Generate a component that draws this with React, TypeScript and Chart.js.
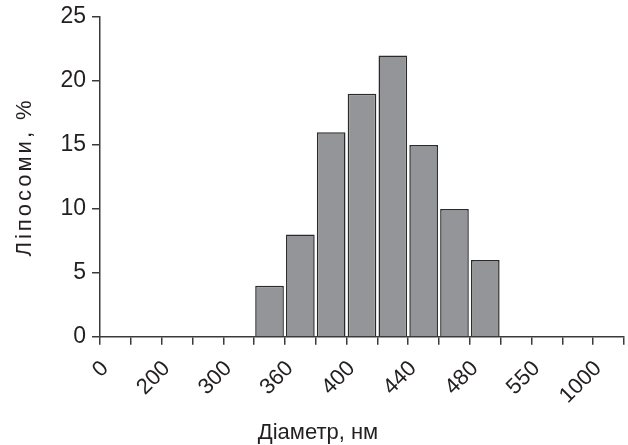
import { useEffect, useRef } from "react";
import { Chart, registerables } from "chart.js";

Chart.register(...registerables);

// Tick labels sit on every second bin boundary of the diameter axis
const tickLabels = ["0", "200", "300", "360", "400", "440", "480", "550", "1000"];
// Share of liposomes (%) in each of the 17 bins along the x axis
const binValues = [0, 0, 0, 0, 0, 4, 8, 16, 19, 22, 15, 10, 6, 0, 0, 0, 0];
const yMax = 25;
const yStep = 5;
const xTitle = "Діаметр, нм";
const yTitle = "Ліпосоми, %";

export default function App() {
  const ref = useRef<HTMLCanvasElement>(null);

  useEffect(() => {
    const ink = "#231f20";
    const axisColor = "#3a3a3a";
    const family = "Arial, 'Liberation Sans', Helvetica, sans-serif";
    const chart = new Chart(ref.current!, {
      type: "bar",
      data: {
        datasets: [
          {
            data: binValues.map((v, i) => ({ x: i + 0.5, y: v > 0 ? v : null })) as any,
            backgroundColor: "#939598",
            borderColor: "#2b2b2b",
            borderWidth: 1.5,
            borderSkipped: "start",
            categoryPercentage: 1,
            barPercentage: 0.93,
          },
        ],
      },
      options: {
        responsive: false,
        animation: false,
        layout: { padding: { left: 12, right: 4, top: 17, bottom: 0 } },
        plugins: {
          legend: { display: false },
          tooltip: { enabled: false },
          title: {
            display: true,
            text: xTitle,
            position: "bottom",
            color: ink,
            font: { family, size: 22, weight: "normal", lineHeight: 1.1 },
            padding: { top: 0, bottom: 0 },
          },
        },
        scales: {
          x: {
            type: "linear",
            min: 0,
            max: binValues.length,
            offset: false,
            afterBuildTicks: (s: any) => {
              s.ticks = binValues
                .map((_, i) => ({ value: i }))
                .concat([{ value: binValues.length }]);
            },
            afterFit: (s: any) => {
              s.height = 84;
              s.paddingLeft = 0;
              s.paddingRight = 0;
            },
            grid: {
              offset: false,
              drawOnChartArea: false,
              drawTicks: true,
              tickLength: 8,
              color: axisColor,
              lineWidth: 1.5,
            },
            border: { display: true, color: axisColor, width: 1.5 },
            ticks: {
              autoSkip: false,
              minRotation: 45,
              maxRotation: 45,
              padding: 11,
              labelOffset: 5,
              color: ink,
              font: { family, size: 22 },
              callback: (v: any) => {
                const n = Math.round(Number(v));
                return n % 2 === 0 ? tickLabels[n / 2] ?? "" : "";
              },
            },
          },
          y: {
            type: "linear",
            min: 0,
            max: yMax,
            afterFit: (s: any) => {
              s.width = 88;
              s.paddingTop = 0;
              s.paddingBottom = 0;
              if (!s.__spaced) {
                const orig = s.drawTitle.bind(s);
                s.drawTitle = (...args: any[]) => {
                  const ctx = s.ctx as any;
                  const prev = ctx.letterSpacing;
                  ctx.letterSpacing = "3px";
                  orig(...args);
                  ctx.letterSpacing = prev ?? "0px";
                };
                s.__spaced = true;
              }
            },
            grid: {
              drawOnChartArea: false,
              drawTicks: true,
              tickLength: 8,
              color: axisColor,
              lineWidth: 1.5,
            },
            border: { display: true, color: axisColor, width: 1.5 },
            ticks: {
              stepSize: yStep,
              padding: 6,
              color: ink,
              font: { family, size: 23 },
            },
            title: {
              display: true,
              text: yTitle,
              color: ink,
              font: { family, size: 22 },
              padding: { top: 0, bottom: 0 },
            },
          },
        },
      },
    } as any);
    return () => chart.destroy();
  }, []);

  return (
    <div style={{ position: "absolute", left: 0, top: 0, width: 628, height: 445 }}>
      <canvas ref={ref} width={628} height={445} style={{ display: "block" }} />
    </div>
  );
}
